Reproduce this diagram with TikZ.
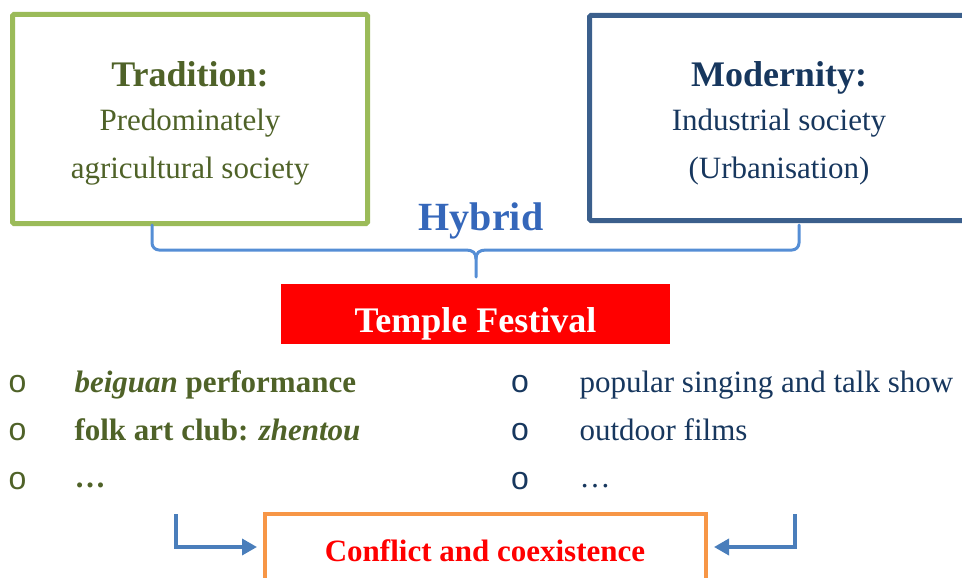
\documentclass[tikz,border=0pt]{standalone}
\usepackage{fontspec}
\setmainfont{Liberation Serif}
\newfontfamily\bulletfont{Liberation Sans}
\usetikzlibrary{arrows.meta}
\definecolor{tradgreen}{HTML}{9BBB59}
\definecolor{tradtext}{HTML}{4F6228}
\definecolor{modblue}{HTML}{3B5F8C}
\definecolor{modtext}{HTML}{17375E}
\definecolor{bracecol}{HTML}{558ED5}
\definecolor{hybridcol}{HTML}{3567BA}
\definecolor{arrowcol}{HTML}{4A7EBB}
\definecolor{orangecol}{HTML}{F79646}
\begin{document}
\begin{tikzpicture}[x=1pt,y=-1pt,
  box/.style={draw, line width=5pt, rounded corners=1.5pt, inner sep=0pt},
  head/.style={anchor=base, font=\fontsize{36}{40}\selectfont\bfseries},
  body/.style={anchor=base, font=\fontsize{31}{40}\selectfont},
  item/.style={anchor=base west, font=\fontsize{31}{40}\selectfont},
  bul/.style={anchor=center, inner sep=0pt, font=\bulletfont\fontsize{32}{34}\selectfont},
  arr/.style={draw=arrowcol, line width=3.5pt, -{Triangle[length=15pt,width=16pt]}}
]
\useasboundingbox (0,0) rectangle (962,578);
\clip (0,0) rectangle (962,578);

% top boxes
\node[box, draw=tradgreen, minimum width=355pt, minimum height=209pt] (trad) at (190,119) {};
\node[box, draw=modblue, minimum width=420pt, minimum height=205pt] (mod) at (799.5,118) {};

\node[head, text=tradtext] (tradh) at (190,87) {Tradition:};
\node[body, text=tradtext] (trad1) at (190,131) {Predominately};
\node[body, text=tradtext] (trad2) at (190,178) {agricultural society};

\node[head, text=modtext] (modh) at (779,87) {Modernity:};
\node[body, text=modtext] (mod1) at (779,131) {Industrial society};
\node[body, text=modtext] (mod2) at (779,178) {(Urbanisation)};

% hybrid and brace
\node[anchor=base, text=hybridcol, font=\fontsize{40}{44}\selectfont\bfseries] (hybrid) at (481,230) {Hybrid};
\coordinate (bl) at (152,225);
\coordinate (br) at (799,225);
\coordinate (btip) at (476,277);
\draw[bracecol, line width=3pt, line cap=round]
  (bl) -- (152,243) arc[start angle=180, end angle=90, radius=7] -- (466,250)
  .. controls (473,250) and (476,253) .. (476,259) -- (btip);
\draw[bracecol, line width=3pt, line cap=round]
  (br) -- (799,243) arc[start angle=0, end angle=90, radius=7] -- (486,250)
  .. controls (479,250) and (476,253) .. (476,259);

% temple festival
\node[fill=red, inner sep=0pt, minimum width=389pt, minimum height=60pt] (temple) at (475.5,314) {};
\node[anchor=base, text=white, font=\fontsize{36}{40}\selectfont\bfseries] (templet) at (475.5,332) {Temple Festival};

% left list
\node[bul, text=tradtext] (lb1) at (17.5,384) {o};
\node[bul, text=tradtext] (lb2) at (17.5,432) {o};
\node[bul, text=tradtext] (lb3) at (17.5,481) {o};
\node[item, text=tradtext] (li1) at (71,392) {\bfseries\itshape beiguan\upshape{} performance};
\node[item, text=tradtext] (li2) at (71,440) {\bfseries folk art club: \itshape zhentou};
\node[item, text=tradtext] (li3) at (71,487) {\bfseries\dots};

% right list
\node[bul, text=modtext] (rb1) at (520,384) {o};
\node[bul, text=modtext] (rb2) at (520,432) {o};
\node[bul, text=modtext] (rb3) at (520,481) {o};
\node[item, text=modtext] (ri1) at (576,392) {popular singing and talk show};
\node[item, text=modtext] (ri2) at (576,440) {outdoor films};
\node[item, text=modtext] (ri3) at (576,487) {\dots};

% conflict box
\node[draw=orangecol, line width=4pt, inner sep=0pt, minimum width=441pt, minimum height=66pt] (cbox) at (485.5,547) {};
\node[anchor=base, text=red, font=\fontsize{31}{36}\selectfont\bfseries] (ctext) at (485,561) {Conflict and coexistence};

\coordinate (la) at (176,514);
\coordinate (ra) at (795,514);
\draw[arr, shorten >=6pt] (la) |- (cbox.west);
\draw[arr, shorten >=6pt] (ra) |- (cbox.east);
\end{tikzpicture}
\end{document}
